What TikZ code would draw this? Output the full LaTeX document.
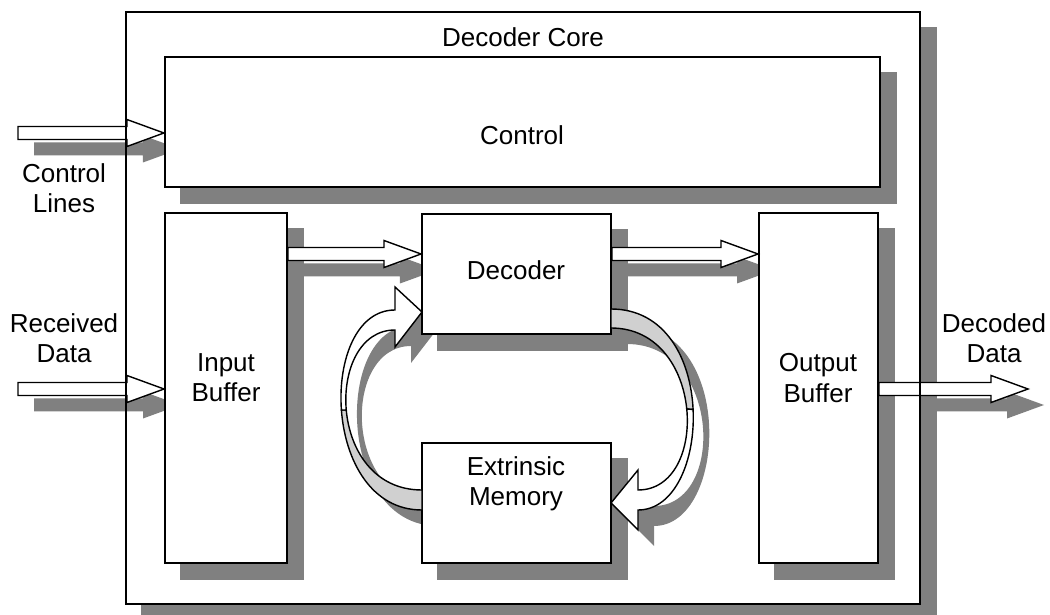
\documentclass[tikz,border=0pt]{standalone}
\usepackage{fontspec}
\setmainfont{Liberation Sans}
\usepackage{tikz}
\usetikzlibrary{calc}
\definecolor{shadowgray}{RGB}{128,128,128}
\definecolor{ribbongray}{RGB}{208,208,208}
\tikzstyle{block}=[rectangle,fill=white,draw=black,line width=1.4pt,inner sep=0pt]
\tikzstyle{corebox}=[rectangle,draw=black,line width=1.6pt,inner sep=0pt]
\tikzstyle{dropshade}=[fill=shadowgray,draw=none]
\tikzstyle{ribbon}=[fill=ribbongray,draw=black,line width=1pt,line join=round]
\tikzstyle{front}=[fill=white,draw=black,line width=1pt]
\tikzstyle{txt}=[font=\fontsize{18.5}{21.5}\selectfont,align=center,inner sep=0pt]
\tikzset{fatarrow/.style={to path={
	($(\tikztostart)+(#1)+(0,-6.5)$) -- ($(\tikztotarget)+(#1)+(-37,-6.5)$)
	-- ($(\tikztotarget)+(#1)+(-37,-13.5)$) -- ($(\tikztotarget)+(#1)$)
	-- ($(\tikztotarget)+(#1)+(-37,13.5)$) -- ($(\tikztotarget)+(#1)+(-37,6.5)$)
	-- ($(\tikztostart)+(#1)+(0,6.5)$) -- cycle}},
	fatarrow/.default={0,0}}
\pgfdeclarelayer{farshadow}
\pgfdeclarelayer{corelayer}
\pgfdeclarelayer{shadowlayer}
\pgfdeclarelayer{frontlayer}
\pgfsetlayers{farshadow,corelayer,shadowlayer,main,frontlayer}
\begin{document}
\begin{tikzpicture}[x=0.025cm,y=-0.025cm]
	\useasboundingbox (0,0) rectangle (1050,615);
	\begin{pgfonlayer}{frontlayer}
		\node [style=corebox, minimum width=19.85cm, minimum height=14.8cm] (core) at (523,308) {};
	\end{pgfonlayer}
	\begin{pgfonlayer}{corelayer}
		\fill [white] (core.north west) rectangle (core.south east);
	\end{pgfonlayer}

	% blocks
	\node [style=block, minimum width=17.875cm, minimum height=3.25cm] (ctrl) at (522.5,122) {};
	\node [style=block, minimum width=3.05cm, minimum height=8.75cm] (inbuf) at (226,388) {};
	\node [style=block, minimum width=4.725cm, minimum height=3cm] (dec) at (516.5,274) {};
	\node [style=block, minimum width=4.725cm, minimum height=3cm] (mem) at (516.5,503) {};
	\node [style=block, minimum width=2.975cm, minimum height=8.75cm] (outbuf) at (818.5,388) {};

	% texts
	\node [style=txt] (coretxt) at (523,37) {Decoder Core};
	\node [style=txt] (ctrltxt) at (522,135) {Control};
	\node [style=txt] (intxt) at (226,378) {Input\\Buffer};
	\node [style=txt] (dectxt) at (516,270) {Decoder};
	\node [style=txt] (memtxt) at (516,484) {Extrinsic\\Memory};
	\node [style=txt] (outtxt) at (818,378) {Output\\Buffer};
	\node [style=txt] (linestxt) at (64,188) {Control\\Lines};
	\node [style=txt] (rectxt) at (64,338) {Received\\Data};
	\node [style=txt] (dectdtxt) at (994,338) {Decoded\\Data};

	% arrow ends
	\coordinate (ctrlin) at (18,133);
	\coordinate (ctrltip) at (ctrl.west |- ctrlin);
	\coordinate (datain) at (18,389);
	\coordinate (datatip) at (inbuf.west |- datain);
	\coordinate (decy) at (0,254);
	\coordinate (inbufout) at (inbuf.east |- decy);
	\coordinate (decin) at (dec.west |- decy);
	\coordinate (decout) at (dec.east |- decy);
	\coordinate (outin) at (outbuf.west |- decy);
	\coordinate (outout) at (outbuf.east |- datain);
	\coordinate (dataout) at (1028,389);

	\draw [style=front, fatarrow] (ctrlin) to (ctrltip);
	\draw [style=front, fatarrow] (datain) to (datatip);
	\draw [style=front, fatarrow] (inbufout) to (decin);
	\draw [style=front, fatarrow] (decout) to (outin);
	\draw [style=front, fatarrow] (outout) to (dataout);

	% loop decoder -> memory
	\draw [style=ribbon] (611,309) .. controls (665.5,309) and (690.75,359.25) .. (693.1,409.5)
		-- (686.75,409) .. controls (682.75,368.5) and (658,328) .. (611,328) -- cycle;
	\draw [style=front] (693.1,409.5) .. controls (695.5,459.75) and (675,510) .. (638,510)
		-- (638,530) -- (611,503) -- (638,470) -- (638,490)
		.. controls (674,490) and (690.75,449.5) .. (686.75,409) -- cycle;
	% loop memory -> decoder
	\draw [style=ribbon] (422,510) .. controls (371,510) and (345,460) .. (341.4,410)
		-- (346.25,410) .. controls (349.75,450) and (374,490) .. (422,490) -- cycle;
	\draw [style=front] (341.4,410) .. controls (337.75,360) and (356.5,310) .. (395,310)
		-- (395,287) -- (422,312) -- (395,347) -- (395,330)
		.. controls (360,330) and (342.75,370) .. (346.25,410) -- cycle;

	\begin{pgfonlayer}{shadowlayer}
		\foreach \b in {ctrl,inbuf,dec,mem,outbuf}
			\fill [style=dropshade] ([shift={(16,16)}]\b.north west) rectangle ([shift={(16,16)}]\b.south east);
		\fill [style=dropshade, fatarrow={16,16}] (ctrlin) to (ctrltip);
		\fill [style=dropshade, fatarrow={16,16}] (datain) to (datatip);
		\fill [style=dropshade, fatarrow={16,16}] (inbufout) to (decin);
		\fill [style=dropshade, fatarrow={16,16}] (decout) to (outin);
		\begin{scope}[shift={(16,16)}]
			\fill [style=dropshade] (611,309) .. controls (720,309) and (712,510) .. (638,510)
				-- (638,530) -- (611,503) -- (638,470) -- (638,490)
				.. controls (710,490) and (705,328) .. (611,328) -- cycle;
			\fill [style=dropshade] (422,510) .. controls (320,510) and (318,310) .. (395,310)
				-- (395,287) -- (422,312) -- (395,347) -- (395,330)
				.. controls (325,330) and (326,490) .. (422,490) -- cycle;
		\end{scope}
	\end{pgfonlayer}
	\begin{pgfonlayer}{farshadow}
		\fill [style=dropshade] ([shift={(16,16)}]core.north west) rectangle ([shift={(16,16)}]core.south east);
		\fill [style=dropshade, fatarrow={16,16}] (outout) to (dataout);
	\end{pgfonlayer}
\end{tikzpicture}
\end{document}
